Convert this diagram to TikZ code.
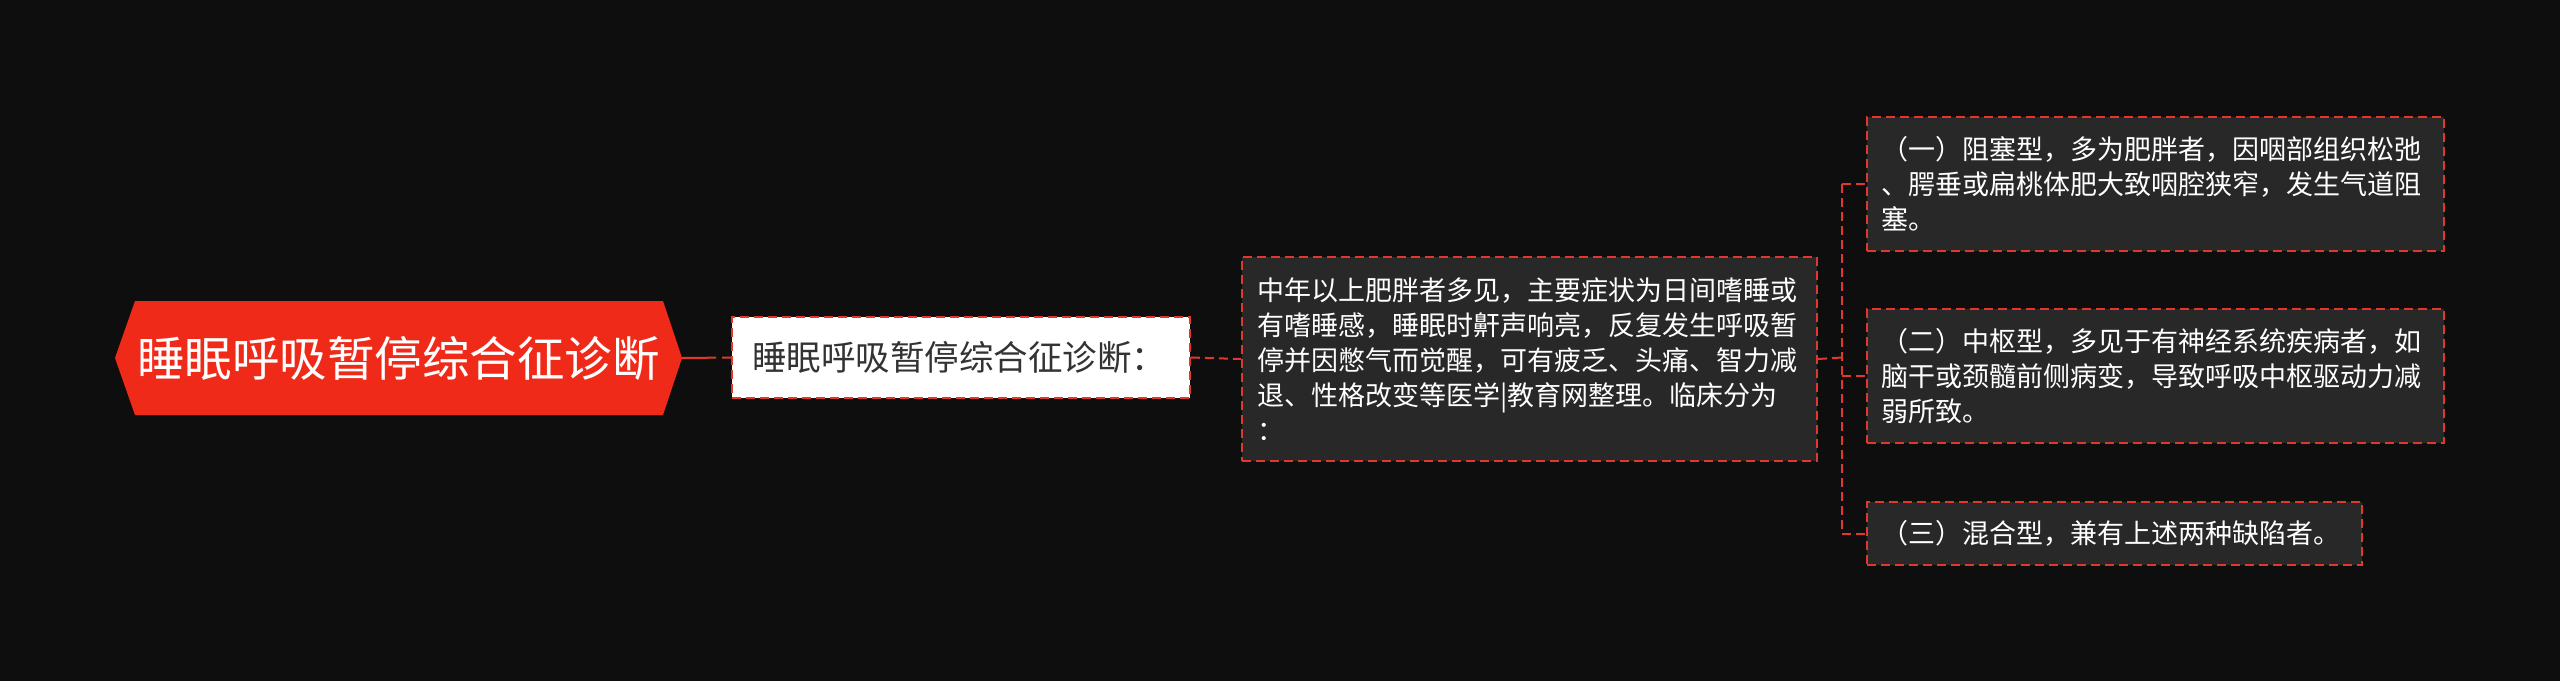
\documentclass[tikz,border=0pt]{standalone}
\usepackage{fontspec}
\setmainfont{Noto Sans CJK SC}
\definecolor{bgdark}{HTML}{0E0E0E}
\definecolor{rootred}{HTML}{F02A19}
\definecolor{linkred}{HTML}{E0392B}
\definecolor{boxgray}{HTML}{282828}
\definecolor{titletext}{HTML}{333333}

\begin{document}
\begin{tikzpicture}[x=1pt,y=-1pt,
		link/.style={draw=linkred,line width=2pt,dash pattern=on 9pt off 5pt},
		leaf/.style={draw=linkred,fill=boxgray,line width=2pt,dash pattern=on 9pt off 5pt,anchor=north west,align=left,inner xsep=14pt,inner ysep=0pt,text=white,font=\fontsize{27}{35}\selectfont}]
		\fill[bgdark] (0,0) rectangle (2560,681);
		
		\fill[rootred] (115,358) -- (135,301) -- (663,301) -- (682,358) -- (663,415) -- (135,415) -- cycle;
		\node[text=white,font=\fontsize{47.5}{52}\selectfont,minimum width=567pt,minimum height=114pt,inner sep=0pt] (root) at (398.5,358){睡眠呼吸暂停综合征诊断};
		
		\node[draw=linkred,fill=white,line width=2pt,dash pattern=on 9pt off 5pt,anchor=west,align=left,text width=418pt,inner xsep=20pt,minimum height=81pt,text=titletext,font=\fontsize{34.5}{38}\selectfont] (title) at (731,357.5){睡眠呼吸暂停综合征诊断：};
		
		\node[leaf,text width=545pt,inner xsep=15pt,minimum height=204pt] (cause) at (1241,256){中年以上肥胖者多见，主要症状为日间嗜睡或\\有嗜睡感，睡眠时鼾声响亮，反复发生呼吸暂\\停并因憋气而觉醒，可有疲乏、头痛、智力减\\退、性格改变等医学|教育网整理。临床分为\\：};
		
		\node[leaf,text width=549pt,minimum height=134pt] (typea) at (1866,116){（一）阻塞型，多为肥胖者，因咽部组织松弛\\、腭垂或扁桃体肥大致咽腔狭窄，发生气道阻\\塞。};
		\node[leaf,text width=549pt,minimum height=134pt] (typeb) at (1866,308){（二）中枢型，多见于有神经系统疾病者，如\\脑干或颈髓前侧病变，导致呼吸中枢驱动力减\\弱所致。};
		\node[leaf,text width=467pt,minimum height=63pt] (typec) at (1866,501){（三）混合型，兼有上述两种缺陷者。};
		
		\coordinate (bus) at (1842,357.5);
		
		\draw[link,dash pattern=on 34pt off 6pt] (root.east) -- (title.west);
		\draw[link] (title.east) -- (cause.west);
		\draw[link] (cause.east) -- (bus);
		\draw[link] (bus |- typea.west) -- (bus |- typec.west);
		\draw[link] (bus |- typea.west) -- (typea.west);
		\draw[link] (bus |- typeb.west) -- (typeb.west);
		\draw[link] (bus |- typec.west) -- (typec.west);
	\end{tikzpicture}
\end{document}
